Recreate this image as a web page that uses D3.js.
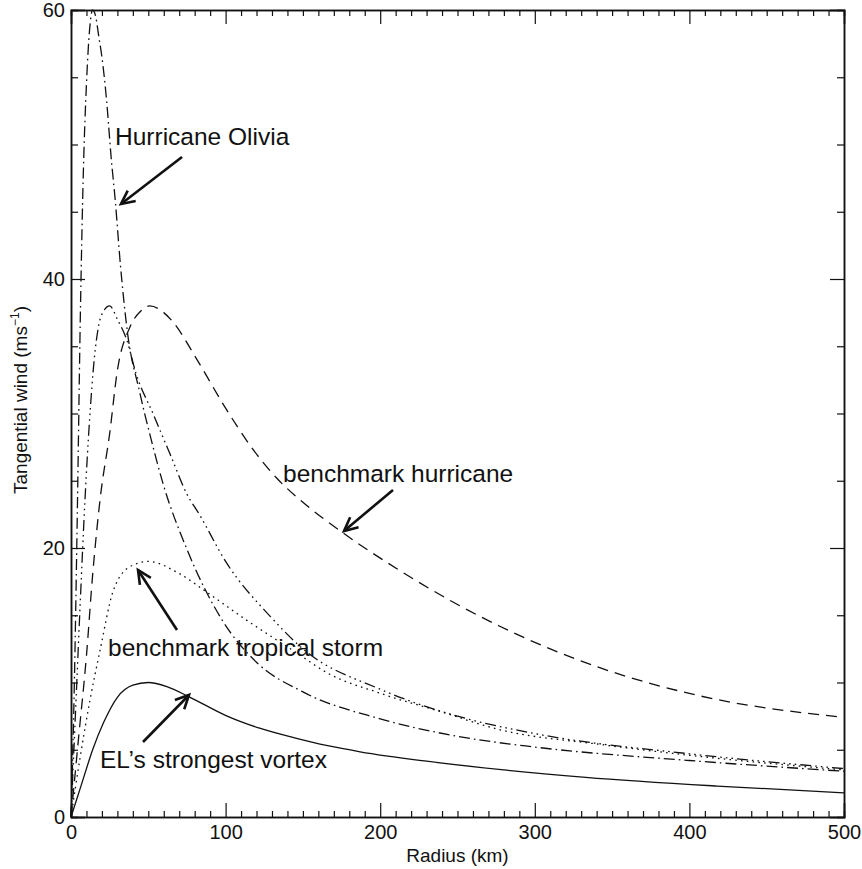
<!DOCTYPE html>
<html>
<head>
<meta charset="utf-8">
<script src="https://cdn.jsdelivr.net/npm/d3@7"></script>
<style>
  body { margin: 0; background: #fff; }
  svg text { font-family: "Liberation Sans", Arial, Helvetica, sans-serif; fill: #111; }
</style>
</head>
<body>
<div id="chart"></div>
<script>
// radius (km) / tangential wind (m/s)
const olivia_r = [0, 2, 4, 6, 8, 10, 12, 14, 16, 18, 20, 23, 26, 28.5, 32, 36, 44.6, 52, 59.5, 75, 98, 120, 150, 200, 250, 300, 400, 500];
const olivia_v = [0, 9, 22, 37, 48, 54.5, 58.5, 60, 59.5, 58, 56.5, 53.3, 49, 46, 41, 36.5, 31.5, 28, 24.8, 19.9, 14.6, 11.5, 9.3, 7.3, 6, 5.2, 4.2, 3.4];

const compact_r = [0, 3, 6, 9, 12, 15, 18, 21, 25, 30, 36, 42, 53, 64, 75, 83, 100, 129, 150, 200, 250, 300, 400, 500];
const compact_v = [0, 8, 16, 23.5, 29.5, 34, 36.6, 37.6, 38, 37, 35.5, 33, 30, 27, 24, 22.5, 19, 14.9, 12.5, 9.5, 7.5, 6.2, 4.7, 3.6];

const hurricane_r = [0, 5, 10, 14, 19, 25, 30, 38, 45, 51, 60, 66, 81.5, 100, 116, 133, 150, 175, 213, 250, 277, 342, 407, 500];
const hurricane_v = [0, 6, 12, 18, 23.8, 28.5, 33.2, 36.4, 37.6, 38, 37.5, 36.8, 34, 30.4, 27.6, 25.2, 23.4, 21.2, 18.3, 15.8, 14.2, 11.1, 9, 7.4];

const storm_r = [0, 6, 12.3, 18.8, 27, 38, 50, 70, 88, 114, 146, 166, 200, 240, 277, 342, 407, 500];
const storm_v = [0, 4.5, 8.7, 12.4, 16.7, 18.6, 19, 18.1, 16.7, 14.6, 12.2, 10.7, 9.2, 7.8, 6.5, 5.4, 4.5, 3.5];

const el_r = [0, 7, 14, 21, 30, 40, 50, 62, 77, 101, 122, 144, 166, 187, 230, 280, 333, 418, 500];
const el_v = [0, 2.5, 5, 7, 8.9, 9.8, 10, 9.7, 8.9, 7.5, 6.6, 5.9, 5.3, 4.85, 4.15, 3.5, 2.95, 2.3, 1.8];

const xTicks = [0, 100, 200, 300, 400, 500];
const yTicks = [0, 20, 40, 60];

const labels = ['Hurricane Olivia', 'benchmark hurricane', 'benchmark tropical storm', 'EL\u2019s strongest vortex'];

const width = 862, height = 869;
const margin = {left: 71, right: 18, top: 10, bottom: 52};

const svg = d3.select('#chart').append('svg')
  .attr('width', width)
  .attr('height', height);

const x = d3.scaleLinear().domain([0, 500]).range([margin.left, width - margin.right]);
const y = d3.scaleLinear().domain([0, 60]).range([height - margin.bottom, margin.top]);

const line = d3.line()
  .x(d => x(d[0]))
  .y(d => y(d[1]))
  .curve(d3.curveMonotoneX);

const pair = (rs, vs) => rs.map((r, i) => [r, vs[i]]);

const series = [
  {pts: pair(hurricane_r, hurricane_v), dash: '11,7'},
  {pts: pair(storm_r, storm_v), dash: '1.6,4.2'},
  {pts: pair(compact_r, compact_v), dash: '11,4,1.6,4,1.6,4,1.6,4'},
  {pts: pair(olivia_r, olivia_v), dash: '11,4,1.6,4'},
  {pts: pair(el_r, el_v), dash: null}
];

const plot = svg.append('g');
series.forEach(s => {
  plot.append('path')
    .datum(s.pts)
    .attr('d', line)
    .attr('fill', 'none')
    .attr('stroke', '#111')
    .attr('stroke-width', 1.3)
    .attr('stroke-dasharray', s.dash);
});

// axes: ticks drawn inward on all four sides
const xMinor = d3.range(0, 501, 10).filter(v => v % 100 !== 0);
const yMinor = d3.range(0, 61, 5).filter(v => v % 20 !== 0);

const axBottom = svg.append('g').attr('transform', `translate(0,${y(0)})`)
  .call(d3.axisBottom(x).tickValues(xTicks).tickSize(-14).tickPadding(8).tickFormat(d3.format('d')));
axBottom.append('g').call(d3.axisBottom(x).tickValues(xMinor).tickSize(-6).tickFormat(''));

const axTop = svg.append('g').attr('transform', `translate(0,${y(60)})`)
  .call(d3.axisTop(x).tickValues(xTicks).tickSize(-14).tickFormat(''));
axTop.append('g').call(d3.axisTop(x).tickValues(xMinor).tickSize(-6).tickFormat(''));

const axLeft = svg.append('g').attr('transform', `translate(${x(0)},0)`)
  .call(d3.axisLeft(y).tickValues(yTicks).tickSize(-14).tickPadding(6).tickFormat(d3.format('d')));
axLeft.append('g').call(d3.axisLeft(y).tickValues(yMinor).tickSize(-7).tickFormat(''));

const axRight = svg.append('g').attr('transform', `translate(${x(500)},0)`)
  .call(d3.axisRight(y).tickValues(yTicks).tickSize(-14).tickFormat(''));
axRight.append('g').call(d3.axisRight(y).tickValues(yMinor).tickSize(-7).tickFormat(''));

svg.selectAll('.domain').attr('stroke', '#111').attr('stroke-width', 1.5);
svg.selectAll('.tick line').attr('stroke', '#111').attr('stroke-width', 1.2);
svg.selectAll('.tick text').attr('font-size', 20).style('fill', '#111');

// axis titles
svg.append('text')
  .attr('x', (x(0) + x(500)) / 2)
  .attr('y', 862)
  .attr('text-anchor', 'middle')
  .attr('font-size', 19)
  .text('Radius (km)');

const yt = svg.append('text')
  .attr('transform', 'translate(27,400) rotate(-90)')
  .attr('text-anchor', 'middle')
  .attr('font-size', 19);
yt.append('tspan').text('Tangential wind (ms');
yt.append('tspan').attr('font-size', 12).attr('dy', -8).text('\u22121');
yt.append('tspan').attr('dy', 8).text(')');

// annotations
const notes = [
  {text: labels[0], tx: 115, ty: 145, from: [182, 157], to: [121, 204]},
  {text: labels[1], tx: 283, ty: 482, from: [393, 490], to: [344, 531]},
  {text: labels[2], tx: 108, ty: 656, from: [177, 630], to: [138, 570]},
  {text: labels[3], tx: 100, ty: 768, from: [143, 742], to: [189, 695]}
];

notes.forEach(n => {
  svg.append('text')
    .attr('x', n.tx).attr('y', n.ty)
    .attr('font-size', 24.5)
    .text(n.text);
  svg.append('line')
    .attr('x1', n.from[0]).attr('y1', n.from[1])
    .attr('x2', n.to[0]).attr('y2', n.to[1])
    .attr('stroke', '#111').attr('stroke-width', 2.6);
  const a = Math.atan2(n.to[1] - n.from[1], n.to[0] - n.from[0]);
  const head = [a + 0.45, a - 0.45].map(t => [n.to[0] - 15 * Math.cos(t), n.to[1] - 15 * Math.sin(t)]);
  svg.append('path')
    .attr('d', `M${head[0]}L${n.to[0]},${n.to[1]}L${head[1]}`)
    .attr('fill', 'none')
    .attr('stroke', '#111').attr('stroke-width', 2.6);
});
</script>
</body>
</html>
